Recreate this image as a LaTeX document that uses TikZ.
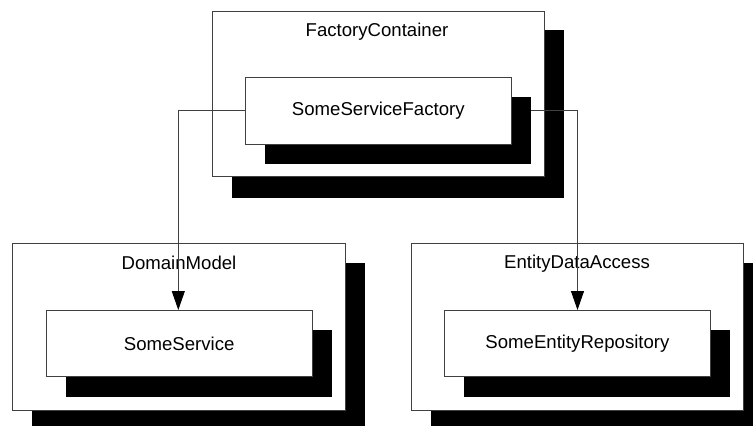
\documentclass[tikz,border=0pt]{standalone}
\usepackage{fontspec}
\setmainfont{Liberation Sans}
\usetikzlibrary{arrows.meta}
\begin{document}
\begin{tikzpicture}[x=1pt,y=-1pt,
  boxline/.style={draw=black!75,line width=0.9pt,fill=white},
  shadowbox/.style={fill=black},
  lbl/.style={font=\fontsize{18.6}{20}\selectfont,inner sep=0pt,anchor=center},
  conn/.style={draw=black!75,line width=0.9pt,-{Triangle[length=19pt,width=13pt,color=black,fill=black]}}]
\useasboundingbox[fill=white] (0,0) rectangle (753,426);
% FactoryContainer
\fill[shadowbox] (232,30) rectangle (564,197.5);
\draw[boxline] (212.3,11) rectangle (544.3,176.7);
\node[lbl] (fc) at (377,31.5) {FactoryContainer};
% SomeServiceFactory
\node[shadowbox,minimum width=266.5pt,minimum height=67.3pt,inner sep=0pt,anchor=north west] (ssfs) at (264.5,96.7) {};
\node[boxline,minimum width=265.7pt,minimum height=66.7pt,inner sep=0pt,anchor=north west] (ssf) at (245,77.3) {};
\node[lbl] at (ssf.center) {SomeServiceFactory};
% DomainModel
\fill[shadowbox] (32.3,263.3) rectangle (365,430);
\draw[boxline] (12.7,243.3) rectangle (345,410);
\node[lbl] (dm) at (179,263.3) {DomainModel};
% SomeService
\fill[shadowbox] (65.7,330) rectangle (331.7,396.7);
\node[boxline,minimum width=266pt,minimum height=66pt,inner sep=0pt,anchor=north west] (ss) at (45.7,310) {};
\node[lbl] at (ss.center) {SomeService};
% EntityDataAccess
\fill[shadowbox] (430.7,263.3) rectangle (763,430);
\draw[boxline] (411,243.3) rectangle (743.3,410);
\node[lbl] (eda) at (577,263.3) {EntityDataAccess};
% SomeEntityRepository
\fill[shadowbox] (464,330) rectangle (730,396.7);
\node[boxline,minimum width=266pt,minimum height=66pt,inner sep=0pt,anchor=north west] (ser) at (444,310) {};
\node[lbl] at (ser.center) {SomeEntityRepository};
% connectors
\coordinate (ly) at (0,110.8);
\coordinate (lx) at (178.3,0);
\coordinate (rx) at (577.5,0);
\draw[conn] (ssf.west |- ly) -| (lx |- ss.north);
\draw[conn] (ssfs.east |- ly) -| (rx |- ser.north);
\end{tikzpicture}
\end{document}
